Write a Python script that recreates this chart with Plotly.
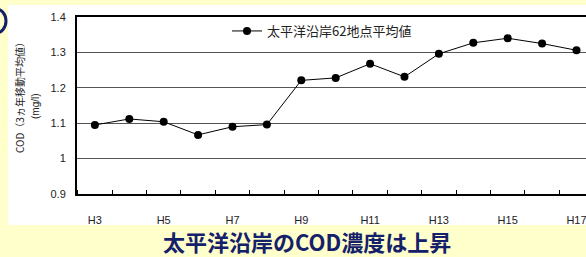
import plotly.graph_objects as go

years = [3, 4, 5, 6, 7, 8, 9, 10, 11, 12, 13, 14, 15, 16, 17]
values = [1.095, 1.112, 1.104, 1.067, 1.090, 1.096, 1.221, 1.228, 1.268, 1.231,
          1.296, 1.327, 1.340, 1.325, 1.306]
tick_years = [3, 5, 7, 9, 11, 13, 15, 17]
tick_labels = ["H3", "H5", "H7", "H9", "H11", "H13", "H15", "H17"]
series_name = "太平洋沿岸62地点平均値"
y_title = "COD（3ヵ年移動平均値）"
y_unit = "(mg/l)"
caption = "太平洋沿岸のCOD濃度は上昇"

W, H = 586, 257
L, T, B = 77, 17, 63
PW = W - L
PH = H - T - B

def px_x(p):
    return (p - L) / PW

def px_y(p):
    return (H - B - p) / PH

navy = "#14206a"
cjk = "Noto Sans CJK JP"
latin = "Liberation Sans, Arial, sans-serif"

fig = go.Figure()
fig.add_trace(go.Scatter(
    x=years, y=values, mode="lines+markers", name=series_name,
    line=dict(color="black", width=1),
    marker=dict(color="black", size=8, symbol="circle"),
))

fig.update_layout(
    width=W, height=H,
    margin=dict(l=L, r=0, t=T, b=B, pad=0),
    paper_bgcolor="#FFFFCC",
    plot_bgcolor="white",
    showlegend=True,
    legend=dict(
        x=px_x(227), y=px_y(16), xanchor="left", yanchor="top",
        bgcolor="rgba(0,0,0,0)", borderwidth=0,
        font=dict(family=cjk, size=13, color="#222"),
    ),
    xaxis=dict(
        range=[2.48, 2.48 + PW / 34.4],
        tickmode="array", tickvals=tick_years, ticktext=tick_labels,
        ticks="", ticklabelstandoff=15, ticklabeloverflow="allow",
        tickfont=dict(family=latin, size=11, color="#222"),
        showgrid=False, zeroline=False,
        showline=True, linecolor="black", linewidth=2, mirror=True,
        minor=dict(tick0=2.5, dtick=1, ticks="inside", ticklen=4,
                   tickcolor="black", tickwidth=1, showgrid=False),
    ),
    yaxis=dict(
        range=[0.9, 1.4], dtick=0.1, tick0=0.9,
        ticks="", ticklabelstandoff=7,
        tickfont=dict(family=latin, size=11, color="#222"),
        showgrid=True, gridcolor="#555555", gridwidth=1,
        zeroline=False,
        showline=True, linecolor="black", linewidth=2, mirror=False,
    ),
    font=dict(family=cjk),
)

# white chart panel (strips around the plot area, which is white itself)
for (ax0, ax1, ay0, ay1) in [(8, 77, 5, 225), (77, 600, 5, 17), (77, 600, 194, 225)]:
    fig.add_shape(type="rect", xref="paper", yref="paper",
                  x0=px_x(ax0), x1=px_x(ax1), y0=px_y(ay1), y1=px_y(ay0),
                  fillcolor="white", line=dict(width=0), layer="below")
# partial navy ring at top-left edge
fig.add_shape(type="circle", xref="paper", yref="paper",
              x0=px_x(-14), x1=px_x(6), y0=px_y(33), y1=px_y(9),
              line=dict(color=navy, width=3), fillcolor="rgba(0,0,0,0)")

fig.add_annotation(text=y_title, xref="paper", yref="paper",
                   x=px_x(19), y=px_y(95), textangle=-90, showarrow=False,
                   font=dict(family=cjk, size=10, color="#222"),
                   xanchor="center", yanchor="middle")
fig.add_annotation(text=y_unit, xref="paper", yref="paper",
                   x=px_x(36), y=px_y(106), textangle=-90, showarrow=False,
                   font=dict(family=latin, size=10, color="#222"),
                   xanchor="center", yanchor="middle")
fig.add_annotation(text="<b>" + caption + "</b>", xref="paper", yref="paper",
                   x=px_x(307), y=px_y(241), showarrow=False, borderpad=0,
                   font=dict(family=cjk, size=22, color=navy),
                   xanchor="center", yanchor="middle")

fig.write_html("out.html", config={"displayModeBar": False},
               post_script="document.body.style.margin='0';document.body.style.background='#FFFFCC';")
